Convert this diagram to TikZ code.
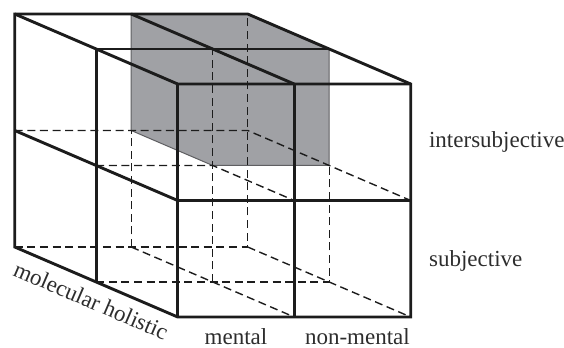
\documentclass[tikz,border=0pt]{standalone}
\usepackage{fontspec}
\setmainfont{Liberation Serif}
\usepackage{xcolor}
\usepackage{tikz}
\usetikzlibrary{positioning}

\definecolor{cellgray}{RGB}{160,161,165}
\definecolor{cellrim}{RGB}{95,95,98}
\definecolor{inkline}{RGB}{28,28,28}
\definecolor{inktext}{RGB}{45,45,45}

\begin{document}
\begin{tikzpicture}[
        x={(58.25pt,0pt)}, y={(0pt,58.25pt)}, z={(40.75pt,-17.5pt)},
        edge/.style={draw=inkline, line width=1.45pt, line join=miter},
        hidden/.style={draw=inkline, line width=0.7pt, dash pattern=on 4pt off 2.3pt},
        cell/.style={fill=cellgray, draw=cellrim, line width=0.5pt},
        lbl/.style={inner sep=0pt, text=inktext, font=\fontsize{11.5}{14}\selectfont},
    ]
    \useasboundingbox (-7.35pt,-50.5pt) rectangle (274.65pt,123.5pt);
    \foreach \i in {0,1,2} \foreach \j in {0,1,2} \foreach \k in {0,1,2}
        \coordinate (p\i\j\k) at (\i,\j,\k);
    \coordinate (upper) at (2,1.5,2); \coordinate (lower) at (2,0.5,2);
    \coordinate (leftbot) at (0.5,0,2); \coordinate (rightbot) at (1.5,0,2);
    \fill[cell] (p120)--(p220)--(p221)--(p211)--(p111)--(p110)--cycle;
    \draw[hidden] (p000)--(p200)--(p220); \draw[hidden] (p200)--(p202);
    \draw[hidden] (p010)--(p210)--(p212); \draw[hidden] (p001)--(p201)--(p211);
    \draw[hidden] (p011)--(p111)--(p112); \draw[hidden] (p100)--(p110);
    \draw[hidden] (p100)--(p102); \draw[hidden] (p101)--(p121);
    \draw[edge] (p000)--(p020)--(p220)--(p222)--(p202)--(p002)--cycle;
    \draw[edge] (p020)--(p022)--(p222); \draw[edge] (p022)--(p002);
    \draw[edge] (p012)--(p212); \draw[edge] (p102)--(p122);
    \draw[edge] (p010)--(p012); \draw[edge] (p001)--(p021)--(p221);
    \draw[edge] (p120)--(p122);
    \node[lbl, right=9pt of upper] (intsub) {intersubjective};
    \node[lbl, right=9pt of lower, yshift=-1pt] (subj) {subjective};
    \node[lbl, below=5.5pt of leftbot] (ment) {mental};
    \node[lbl, below=5.5pt of rightbot, xshift=2.5pt] (nonment) {non-mental};
    \path (p000)--(p002) node[lbl, pos=0.515, sloped, below=5.3pt] (molhol) {molecular holistic};
\end{tikzpicture}
\end{document}
